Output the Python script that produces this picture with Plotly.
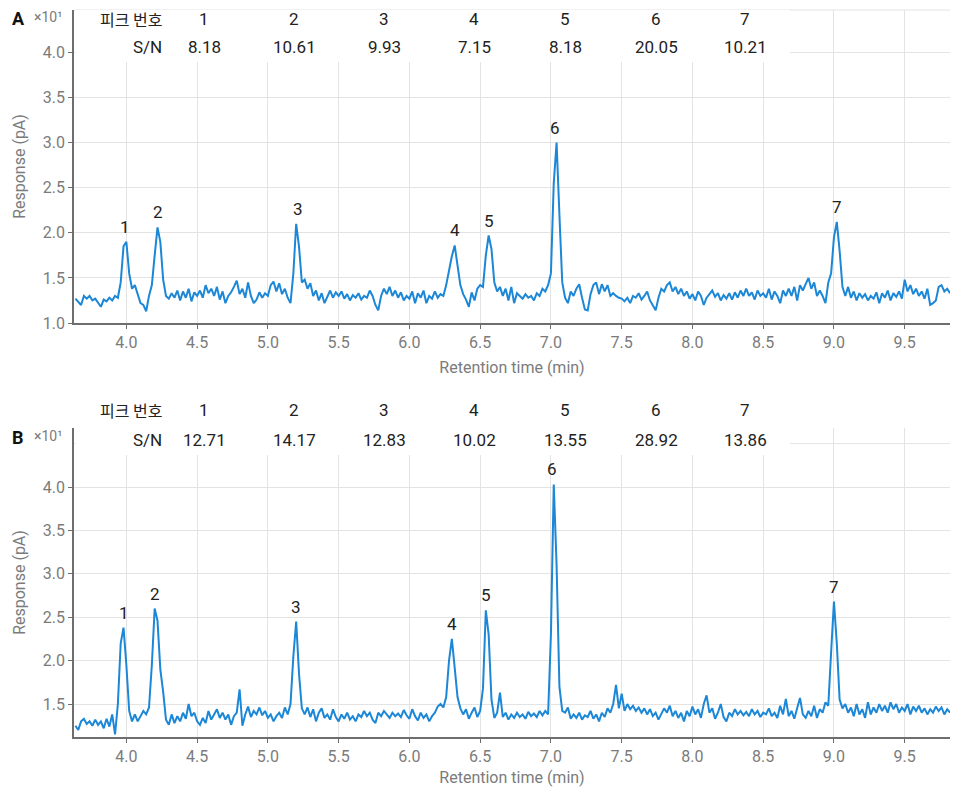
import numpy as np
import plotly.graph_objects as go

# ---------------- data (values in units of x10 pA) ----------------
t_start = 3.64
t_step = 0.02

resp_A = [
    1.27, 1.24, 1.20, 1.30, 1.27, 1.30, 1.25, 1.27, 1.22, 1.18,
    1.26, 1.24, 1.28, 1.25, 1.30, 1.28, 1.45, 1.85, 1.90, 1.55,
    1.38, 1.42, 1.32, 1.22, 1.20, 1.13, 1.30, 1.42, 1.75, 2.06,
    1.90, 1.48, 1.30, 1.27, 1.33, 1.28, 1.36, 1.25, 1.35, 1.28,
    1.38, 1.24, 1.34, 1.30, 1.36, 1.28, 1.42, 1.33, 1.38, 1.30,
    1.40, 1.26, 1.35, 1.22, 1.30, 1.34, 1.40, 1.47, 1.32, 1.38,
    1.28, 1.45, 1.30, 1.22, 1.26, 1.34, 1.28, 1.33, 1.30, 1.42,
    1.46, 1.35, 1.44, 1.32, 1.38, 1.28, 1.22, 1.55, 2.10, 1.85,
    1.45, 1.48, 1.38, 1.44, 1.30, 1.36, 1.25, 1.33, 1.22, 1.30,
    1.36, 1.28, 1.34, 1.30, 1.35, 1.27, 1.32, 1.25, 1.31, 1.28,
    1.33, 1.26, 1.30, 1.28, 1.36, 1.30, 1.20, 1.14, 1.30, 1.38,
    1.32, 1.40, 1.30, 1.36, 1.28, 1.34, 1.25, 1.30, 1.27, 1.35,
    1.22, 1.33, 1.28, 1.36, 1.22, 1.30, 1.27, 1.35, 1.28, 1.32,
    1.30, 1.42, 1.60, 1.74, 1.86, 1.62, 1.42, 1.32, 1.26, 1.18,
    1.34, 1.25, 1.38, 1.42, 1.40, 1.75, 1.97, 1.82, 1.45, 1.35,
    1.40, 1.30, 1.38, 1.25, 1.40, 1.22, 1.33, 1.30, 1.27, 1.32,
    1.28, 1.30, 1.25, 1.33, 1.30, 1.38, 1.35, 1.42, 1.55, 2.55,
    3.00, 2.20, 1.45, 1.28, 1.22, 1.35, 1.30, 1.38, 1.43, 1.28,
    1.15, 1.14, 1.32, 1.42, 1.45, 1.32, 1.43, 1.35, 1.42, 1.30,
    1.33, 1.30, 1.28, 1.27, 1.24, 1.28, 1.22, 1.30, 1.28, 1.33,
    1.26, 1.30, 1.35, 1.25, 1.20, 1.14, 1.28, 1.38, 1.35, 1.42,
    1.45, 1.35, 1.40, 1.32, 1.38, 1.30, 1.35, 1.27, 1.32, 1.25,
    1.35, 1.30, 1.20, 1.28, 1.32, 1.36, 1.29, 1.33, 1.25, 1.31,
    1.27, 1.33, 1.26, 1.34, 1.28, 1.36, 1.30, 1.38, 1.30, 1.34,
    1.26, 1.36, 1.30, 1.33, 1.28, 1.38, 1.26, 1.35, 1.30, 1.22,
    1.36, 1.30, 1.38, 1.30, 1.40, 1.25, 1.42, 1.36, 1.43, 1.50,
    1.38, 1.45, 1.30, 1.36, 1.30, 1.22, 1.45, 1.55, 1.95, 2.12,
    1.80, 1.40, 1.30, 1.40, 1.28, 1.35, 1.25, 1.33, 1.28, 1.32,
    1.25, 1.30, 1.27, 1.34, 1.22, 1.33, 1.28, 1.36, 1.25, 1.33,
    1.29, 1.35, 1.27, 1.48, 1.35, 1.42, 1.32, 1.38, 1.30, 1.35,
    1.27, 1.38, 1.20, 1.22, 1.25, 1.40, 1.42, 1.35, 1.38, 1.33,
]

resp_B = [
    1.25, 1.20, 1.30, 1.33, 1.27, 1.30, 1.25, 1.32, 1.26, 1.30,
    1.22, 1.33, 1.24, 1.38, 1.15, 1.50, 2.20, 2.38, 1.95, 1.42,
    1.30, 1.38, 1.30, 1.36, 1.42, 1.38, 1.46, 1.95, 2.60, 2.46,
    1.90, 1.64, 1.32, 1.26, 1.38, 1.28, 1.36, 1.30, 1.40, 1.33,
    1.50, 1.36, 1.40, 1.30, 1.26, 1.34, 1.28, 1.42, 1.32, 1.38,
    1.44, 1.34, 1.40, 1.32, 1.38, 1.26, 1.36, 1.40, 1.67, 1.25,
    1.38, 1.47, 1.35, 1.42, 1.38, 1.46, 1.37, 1.42, 1.34, 1.38,
    1.30, 1.36, 1.40, 1.34, 1.46, 1.38, 1.50, 2.05, 2.45, 1.85,
    1.45, 1.38, 1.46, 1.35, 1.44, 1.30, 1.40, 1.45, 1.34, 1.38,
    1.32, 1.44, 1.35, 1.30, 1.38, 1.33, 1.40, 1.32, 1.36, 1.30,
    1.38, 1.35, 1.42, 1.36, 1.40, 1.32, 1.28, 1.40, 1.36, 1.42,
    1.38, 1.34, 1.40, 1.36, 1.39, 1.35, 1.43, 1.37, 1.33, 1.44,
    1.36, 1.31, 1.40, 1.34, 1.38, 1.30, 1.36, 1.40, 1.47, 1.50,
    1.46, 1.58, 2.00, 2.25, 1.92, 1.58, 1.45, 1.38, 1.44, 1.33,
    1.40, 1.46, 1.35, 1.42, 1.68, 2.58, 2.30, 1.55, 1.34, 1.40,
    1.63, 1.35, 1.40, 1.32, 1.38, 1.34, 1.40, 1.35, 1.38, 1.33,
    1.41, 1.36, 1.39, 1.35, 1.42, 1.37, 1.42, 1.38, 2.30, 4.03,
    3.10, 1.70, 1.42, 1.40, 1.46, 1.33, 1.38, 1.34, 1.40, 1.32,
    1.37, 1.35, 1.42, 1.33, 1.38, 1.30, 1.40, 1.35, 1.45, 1.40,
    1.50, 1.72, 1.45, 1.62, 1.42, 1.50, 1.44, 1.48, 1.42, 1.46,
    1.40, 1.45, 1.38, 1.44, 1.36, 1.40, 1.32, 1.38, 1.45, 1.40,
    1.48, 1.36, 1.42, 1.34, 1.40, 1.30, 1.42, 1.36, 1.47, 1.38,
    1.44, 1.34, 1.50, 1.60, 1.40, 1.45, 1.33, 1.40, 1.50, 1.35,
    1.30, 1.40, 1.36, 1.44, 1.38, 1.42, 1.37, 1.41, 1.36, 1.44,
    1.38, 1.42, 1.35, 1.40, 1.38, 1.45, 1.36, 1.40, 1.34, 1.48,
    1.38, 1.56, 1.36, 1.42, 1.33, 1.45, 1.57, 1.38, 1.34, 1.42,
    1.36, 1.48, 1.34, 1.44, 1.40, 1.52, 1.48, 2.10, 2.68, 2.20,
    1.55, 1.45, 1.50, 1.40, 1.46, 1.36, 1.50, 1.38, 1.44, 1.34,
    1.52, 1.38, 1.46, 1.40, 1.50, 1.42, 1.48, 1.40, 1.52, 1.44,
    1.50, 1.40, 1.46, 1.42, 1.50, 1.38, 1.47, 1.42, 1.48, 1.40,
    1.45, 1.38, 1.44, 1.40, 1.47, 1.42, 1.46, 1.38, 1.44, 1.40,
]

peak_numbers = ["1", "2", "3", "4", "5", "6", "7"]
peak_times_A = [3.99, 4.22, 5.21, 6.32, 6.56, 7.03, 9.02]
peak_times_B = [3.98, 4.20, 5.20, 6.30, 6.54, 7.01, 9.00]
sn_A = ["8.18", "10.61", "9.93", "7.15", "8.18", "20.05", "10.21"]
sn_B = ["12.71", "14.17", "12.83", "10.02", "13.55", "28.92", "13.86"]

x_ticks = [4.0, 4.5, 5.0, 5.5, 6.0, 6.5, 7.0, 7.5, 8.0, 8.5, 9.0, 9.5]
y_ticks = [1.0, 1.5, 2.0, 2.5, 3.0, 3.5, 4.0]

# ---------------- style ----------------
FONT = "Roboto"
BLUE = "#1c87d6"
GRID = "#e3e3e3"
AXIS = "#6e6e6e"
TICKC = "#7b7b7b"
TXT = "#222222"

# page body has an 8px margin: figure sized to fit the 961x795 window
OFF = 8
W, H = 961 - 2 * OFF, 795 - 2 * OFF
ML, MR, MT, MB = 74 - OFF, 3, 10 - OFF, 50
PW = W - ML - MR
PH = H - MT - MB
PLOT_LEFT = 74      # window pixel of plot-area left edge
PLOT_BOTTOM = 737   # window pixel of plot-area bottom edge


def px(xp):
    return (xp - PLOT_LEFT) / PW


def py(yp):
    return (PLOT_BOTTOM - yp) / PH


tA = t_start + t_step * np.arange(len(resp_A))
tB = t_start + t_step * np.arange(len(resp_B))

fig = go.Figure()
fig.add_trace(go.Scatter(x=tA, y=resp_A, mode="lines",
                         line=dict(color=BLUE, width=2), xaxis="x", yaxis="y",
                         hoverinfo="skip", showlegend=False))
fig.add_trace(go.Scatter(x=tB, y=resp_B, mode="lines",
                         line=dict(color=BLUE, width=2), xaxis="x2", yaxis="y2",
                         hoverinfo="skip", showlegend=False))

xcommon = dict(range=[3.63, 9.82], tickvals=x_ticks, tickformat=".1f",
               showgrid=True, gridcolor=GRID, gridwidth=1,
               showline=True, linecolor=AXIS, linewidth=1.5,
               ticks="outside", ticklen=4, tickcolor=AXIS,
               tickfont=dict(family=FONT, size=16, color=TICKC),
               title=dict(text="Retention time (min)",
                          font=dict(family=FONT, size=16, color=TICKC),
                          standoff=11),
               automargin=False, zeroline=False)
ycommon = dict(tickvals=y_ticks, tickformat=".1f",
               showgrid=True, gridcolor=GRID, gridwidth=1,
               showline=True, linecolor=AXIS, linewidth=1.5,
               ticks="outside", ticklen=4, tickcolor=AXIS,
               tickfont=dict(family=FONT, size=16, color=TICKC),
               title=dict(text="Response (pA)",
                          font=dict(family=FONT, size=16, color=TICKC),
                          standoff=13),
               automargin=False, zeroline=False)

domA = [py(323), 1.0]
domB = [0.0, py(428)]

fig.update_layout(
    width=W, height=H,
    margin=dict(l=ML, r=MR, t=MT, b=MB),
    paper_bgcolor="white", plot_bgcolor="white",
    font=dict(family=FONT),
    xaxis=dict(xcommon, anchor="y", domain=[0, 1]),
    yaxis=dict(ycommon, anchor="x", domain=domA, range=[1.0, 4.47]),
    xaxis2=dict(xcommon, anchor="y2", domain=[0, 1]),
    yaxis2=dict(ycommon, anchor="x2", domain=domB, range=[1.12, 4.68]),
    showlegend=False,
)

shapes = []
# top border line of panel A and 4.5 grid line of panel B (grid colour)
shapes.append(dict(type="line", xref="x domain", yref="y domain",
                   x0=0, x1=1, y0=1, y1=1, line=dict(color=GRID, width=1),
                   layer="below"))
shapes.append(dict(type="line", xref="x2 domain", yref="y2",
                   x0=0, x1=1, y0=4.5, y1=4.5, line=dict(color=GRID, width=1),
                   layer="below"))
# white boxes behind the S/N tables
shapes.append(dict(type="rect", xref="paper", yref="paper",
                   x0=px(75.5), x1=px(790), y0=py(62), y1=1.0,
                   fillcolor="white", line=dict(width=0), layer="above"))
shapes.append(dict(type="rect", xref="paper", yref="paper",
                   x0=px(75.5), x1=px(790), y0=py(455), y1=py(427),
                   fillcolor="white", line=dict(width=0), layer="above"))
fig.update_layout(shapes=shapes)

ann = []


def table(row1_y, row2_y, sn_vals):
    col_x = [204, 294, 384, 474, 565, 656, 745]
    ann.append(dict(text="피크 번호", x=px(164), y=py(row1_y), xref="paper", yref="paper",
                    xanchor="right", yanchor="middle", showarrow=False,
                    font=dict(family="Noto Sans CJK KR", size=16, color=TXT)))
    ann.append(dict(text="S/N", x=px(164), y=py(row2_y), xref="paper", yref="paper",
                    xanchor="right", yanchor="middle", showarrow=False,
                    font=dict(family=FONT, size=17, color=TXT)))
    for cx, num, sn in zip(col_x, peak_numbers, sn_vals):
        ann.append(dict(text=num, x=px(cx), y=py(row1_y), xref="paper", yref="paper",
                        xanchor="center", yanchor="middle", showarrow=False,
                        font=dict(family=FONT, size=17, color=TXT)))
        ann.append(dict(text=sn, x=px(cx), y=py(row2_y), xref="paper", yref="paper",
                        xanchor="center", yanchor="middle", showarrow=False,
                        font=dict(family=FONT, size=17, color=TXT)))


table(19, 47, sn_A)
table(410, 440, sn_B)

for label, ly in (("A", 18), ("B", 437)):
    ann.append(dict(text="<b>" + label + "</b>", x=px(18), y=py(ly), xref="paper", yref="paper",
                    xanchor="center", yanchor="middle", showarrow=False,
                    font=dict(family=FONT, size=18, color="#111111")))
    ann.append(dict(text="×10¹", x=px(32), y=py(ly - 1), xref="paper", yref="paper",
                    xanchor="left", yanchor="middle", showarrow=False,
                    font=dict(family=FONT, size=14, color=TICKC)))


def peak_labels(tt, yy, times, xa, ya):
    tt = np.asarray(tt)
    yy = np.asarray(yy)
    for num, pt in zip(peak_numbers, times):
        m = np.abs(tt - pt) <= 0.031
        i = np.argmax(np.where(m, yy, -np.inf))
        ann.append(dict(text=num, x=pt, y=yy[i], xref=xa, yref=ya,
                        xanchor="center", yanchor="bottom", showarrow=False,
                        yshift=3, font=dict(family=FONT, size=17, color=TXT)))


peak_labels(tA, resp_A, peak_times_A, "x", "y")
peak_labels(tB, resp_B, peak_times_B, "x2", "y2")

fig.update_layout(annotations=ann)
fig.write_html("out.html")
